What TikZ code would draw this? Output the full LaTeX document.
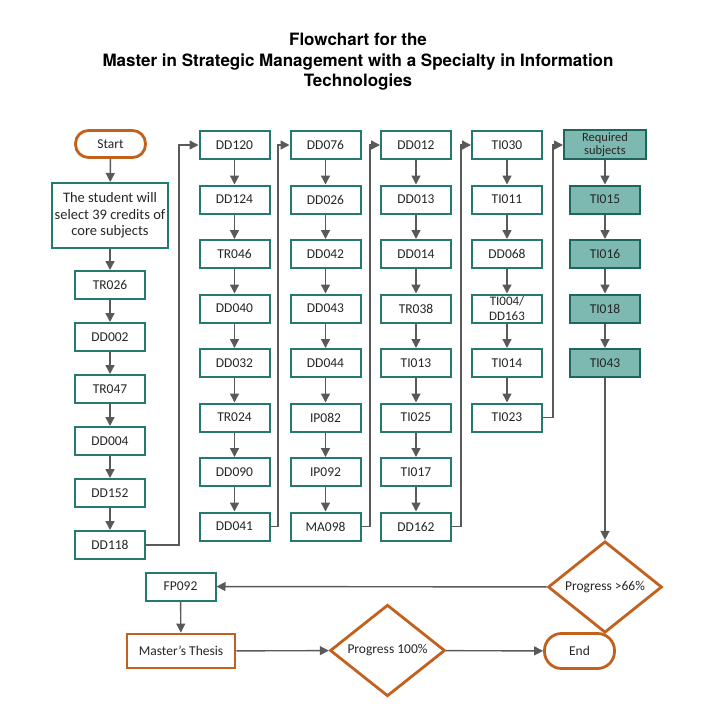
\documentclass[tikz,border=0pt]{standalone}
\usepackage{fontspec}
\setmainfont{Carlito}
\newfontfamily\titlefont{TeX Gyre Heros}
\usetikzlibrary{arrows.meta,shapes.geometric}
\definecolor{teal1}{HTML}{257A70}
\definecolor{tealfill}{HTML}{7DB8B1}
\definecolor{tealdark}{HTML}{1C665E}
\definecolor{orng}{HTML}{C2611E}
\definecolor{arr}{HTML}{595959}
\definecolor{txt}{HTML}{262626}
\begin{document}
\begin{tikzpicture}[x=1pt,y=-1pt,
  box/.style={draw=teal1,line width=2pt,fill=white,minimum width=70pt,minimum height=28pt,inner sep=1pt,text=txt,font=\fontsize{13.5}{14}\selectfont,align=center},
  req/.style={draw=tealdark,line width=2pt,fill=tealfill,minimum width=70pt,minimum height=28pt,inner sep=1pt,text=txt,font=\fontsize{13.5}{14}\selectfont,align=center},
  term/.style={draw=orng,line width=2.8pt,fill=white,rounded corners=13pt,minimum width=70pt,text=txt,font=\fontsize{13.5}{14}\selectfont},
  thesis/.style={draw=orng,line width=2.8pt,fill=white,minimum width=108pt,minimum height=34pt,text=txt,font=\fontsize{13.5}{14}\selectfont},
  dia/.style={draw=orng,line width=2.8pt,fill=white,diamond,inner sep=0pt,minimum width=114pt,minimum height=52pt,text=txt,font=\fontsize{13.5}{14}\selectfont},
  conn/.style={draw=arr,line width=1.4pt,-{Triangle[length=9pt,width=9pt]}},
]
\useasboundingbox (0,0) rectangle (716,709);
\node[font=\titlefont\bfseries\fontsize{17}{20.5}\selectfont,align=center,text=black] (title) at (358,62)
 {Flowchart for the\\Master in Strategic Management with a Specialty in Information\\Technologies};

% column 1
\node[term,minimum height=27pt] (start) at (110.5,144) {Start};
\node[box,minimum width=116pt,minimum height=65pt,font=\fontsize{14.5}{16.5}\selectfont] (stud) at (110,215.5) {The student will\\select 39 credits of\\core subjects};
\node[box] (c1a) at (110,285) {TR026};
\node[box] (c1b) at (110,337) {DD002};
\node[box] (c1c) at (110,389) {TR047};
\node[box] (c1d) at (110,441) {DD004};
\node[box] (c1e) at (110,493) {DD152};
\node[box] (c1f) at (110,545) {DD118};
\draw[conn] (start) -- (stud);
\draw[conn] (stud) -- (c1a);
\draw[conn] (c1a) -- (c1b);
\draw[conn] (c1b) -- (c1c);
\draw[conn] (c1c) -- (c1d);
\draw[conn] (c1d) -- (c1e);
\draw[conn] (c1e) -- (c1f);

% columns 2-4
\def\ra{145}\def\rb{199.5}\def\rc{254}\def\rd{308.5}\def\re{363}\def\rf{417.5}\def\rg{472}\def\rh{526.5}
\foreach \col/\x/\a/\b/\c/\d/\e/\f/\g/\h in {
  2/234.5/DD120/DD124/TR046/DD040/DD032/TR024/DD090/DD041,
  3/325.5/DD076/DD026/DD042/DD043/DD044/IP082/IP092/MA098,
  4/416/DD012/DD013/DD014/TR038/TI013/TI025/TI017/DD162}{
  \node[box] (k\col a) at (\x,\ra) {\a};
  \node[box] (k\col b) at (\x,\rb) {\b};
  \node[box] (k\col c) at (\x,\rc) {\c};
  \node[box] (k\col d) at (\x,\rd) {\d};
  \node[box] (k\col e) at (\x,\re) {\e};
  \node[box] (k\col f) at (\x,\rf) {\f};
  \node[box] (k\col g) at (\x,\rg) {\g};
  \node[box] (k\col h) at (\x,\rh) {\h};
  \draw[conn] (k\col a) -- (k\col b);
  \draw[conn] (k\col b) -- (k\col c);
  \draw[conn] (k\col c) -- (k\col d);
  \draw[conn] (k\col d) -- (k\col e);
  \draw[conn] (k\col e) -- (k\col f);
  \draw[conn] (k\col f) -- (k\col g);
  \draw[conn] (k\col g) -- (k\col h);
}
% column 5
\node[box] (k5a) at (507,\ra) {TI030};
\node[box] (k5b) at (507,\rb) {TI011};
\node[box] (k5c) at (507,\rc) {DD068};
\node[box,font=\fontsize{13}{15}\selectfont] (k5d) at (507,\rd) {TI004/\\DD163};
\node[box] (k5e) at (507,\re) {TI014};
\node[box] (k5f) at (507,\rf) {TI023};
\draw[conn] (k5a) -- (k5b);
\draw[conn] (k5b) -- (k5c);
\draw[conn] (k5c) -- (k5d);
\draw[conn] (k5d) -- (k5e);
\draw[conn] (k5e) -- (k5f);

% column 6
\node[req,minimum width=82pt,minimum height=29pt,font=\fontsize{12.5}{13}\selectfont] (r0) at (605,145) {Required\\subjects};
\node[req] (r1) at (605,\rb) {TI015};
\node[req] (r2) at (605,\rc) {TI016};
\node[req] (r3) at (605,\rd) {TI018};
\node[req] (r4) at (605,\re) {TI043};
\draw[conn] (r0) -- (r1);
\draw[conn] (r1) -- (r2);
\draw[conn] (r2) -- (r3);
\draw[conn] (r3) -- (r4);

% column links
\draw[conn] (c1f.east) -- (179,545) -- (179,\ra) -- (k2a.west);
\draw[conn] (k2h.east) -- (278,\rh) -- (278,\ra) -- (k3a.west);
\draw[conn] (k3h.east) -- (370,\rh) -- (370,\ra) -- (k4a.west);
\draw[conn] (k4h.east) -- (461,\rh) -- (461,\ra) -- (k5a.west);
\draw[conn] (k5f.east) -- (553,\rf) -- (553,\ra) -- (r0.west);

% bottom
\node[dia] (p66) at (605,587) {Progress >66\%};
\node[box] (fp) at (180.5,586.5) {FP092};
\node[thesis] (th) at (181,651) {Master’s Thesis};
\node[dia,minimum height=53pt,minimum width=115pt] (p100) at (387.5,650.5) {Progress 100\%};
\node[term,minimum height=35pt,rounded corners=17pt] (end) at (579.5,651) {End};
\draw[conn] (r4) -- (p66);
\draw[conn] (p66) -- (fp);
\draw[conn] (fp) -- (th);
\draw[conn] (th) -- (p100);
\draw[conn] (p100) -- (end);
\end{tikzpicture}
\end{document}
